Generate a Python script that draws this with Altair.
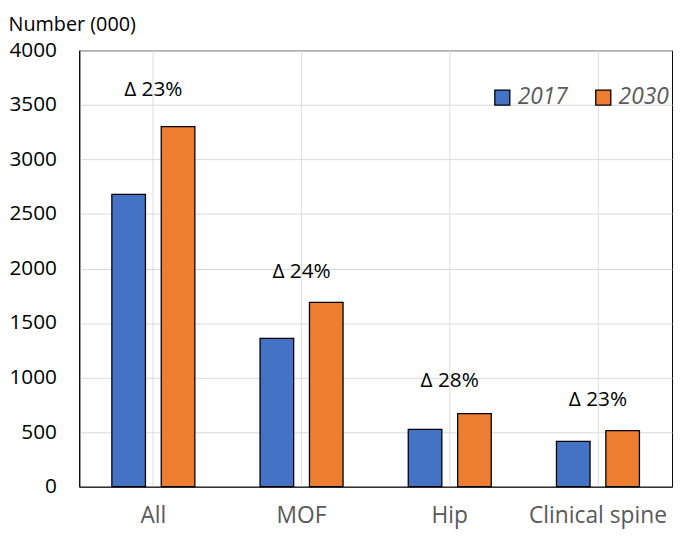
import altair as alt
import pandas as pd

categories = ["All", "MOF", "Hip", "Clinical spine"]
years = ["2017", "2030"]
values_2017 = [2680, 1360, 525, 415]
values_2030 = [3300, 1690, 670, 515]
delta_labels = ["Δ 23%", "Δ 24%", "Δ 28%", "Δ 23%"]
delta_label_y = [3640, 1970, 970, 790]
y_ticks = [0, 500, 1000, 1500, 2000, 2500, 3000, 3500, 4000]

FONT = "Open Sans"

rows = []
for c, a, b in zip(categories, values_2017, values_2030):
    rows.append({"category": c, "year": "2017", "value": a})
    rows.append({"category": c, "year": "2030", "value": b})
df = pd.DataFrame(rows)
ann = pd.DataFrame({"category": categories, "label": delta_labels, "y": delta_label_y})

x_enc = alt.X(
    "category:N",
    sort=categories,
    scale=alt.Scale(paddingInner=0.44, paddingOuter=0.22),
    axis=alt.Axis(
        title=None, labelAngle=0, ticks=False, domain=True, domainColor="#000000",
        labelFont=FONT, labelFontSize=23, labelColor="#595959", labelPadding=18,
    ),
)

bars = alt.Chart(df).mark_bar(stroke="#000000", strokeWidth=1.3).encode(
    x=x_enc,
    xOffset=alt.XOffset("year:N", sort=years, scale=alt.Scale(paddingInner=0.32, paddingOuter=0)),
    y=alt.Y(
        "value:Q",
        scale=alt.Scale(domain=[0, 4000], nice=False),
        axis=alt.Axis(
            values=y_ticks, format="d", title="Number (000)", titleAngle=0, titleAlign="left",
            titleBaseline="middle", titleX=-72, titleY=-26, titleFont=FONT,
            titleFontSize=20, titleFontWeight="normal", titleColor="#000000",
            labelFont=FONT, labelFontSize=21, labelColor="#000000", labelPadding=23,
            ticks=False, domainColor="#000000", gridColor="#d9d9d9", gridWidth=1,
        ),
    ),
    color=alt.Color(
        "year:N",
        sort=years,
        scale=alt.Scale(domain=years, range=["#4472C4", "#ED7D31"]),
        legend=alt.Legend(
            title=None, orient="none", legendX=416, legendY=36, direction="horizontal",
            symbolType="square", symbolSize=230, symbolStrokeColor="#000000",
            symbolStrokeWidth=1.3, labelFont=FONT, labelFontSize=23,
            labelFontStyle="italic", labelColor="#595959", labelOffset=4,
            columnPadding=24,
        ),
    ),
)

text = alt.Chart(ann).mark_text(font=FONT, fontSize=21, color="#000000").encode(
    x=alt.X("category:N", sort=categories),
    y=alt.Y("y:Q"),
    text="label:N",
)

chart = alt.layer(bars, text).properties(
    width=599, height=441,
    autosize=alt.AutoSizeParams(type="none"),
    padding={"left": 72, "top": 40, "right": 5, "bottom": 40},
).configure_view(stroke="#000000", strokeWidth=1).configure_axis(grid=True)

chart.save("out.html", embed_options={"renderer": "svg", "actions": False})
